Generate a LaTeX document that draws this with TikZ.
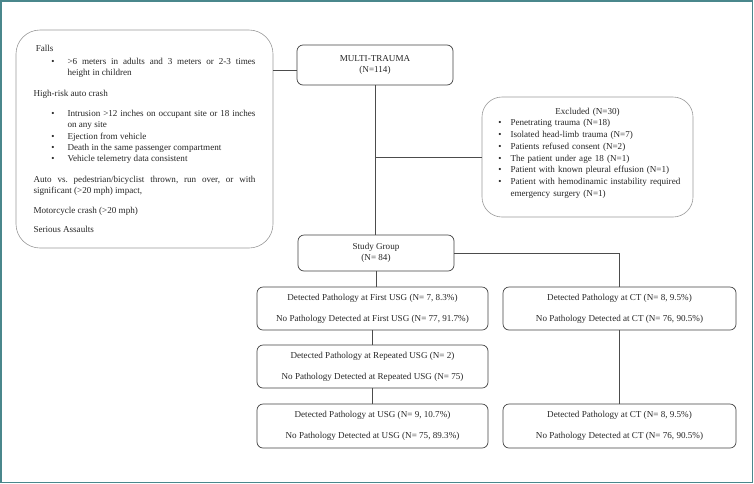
\documentclass[tikz,border=0pt]{standalone}
\usepackage{fontspec}
\setmainfont{Liberation Serif}
\usepackage{enumitem}
\usepackage{tikz}

\definecolor{framecol}{HTML}{4A878C}

\begin{document}
\begin{tikzpicture}[x=1pt,y=-1pt,
    every node/.style={font=\fontsize{9.1}{11.3}\selectfont,text=black!85,inner sep=0pt},
    box/.style={draw=black!75,line width=0.7pt,rounded corners=6pt,align=center},
    softbox/.style={draw=black!40,line width=0.6pt,rounded corners=24pt},
    link/.style={draw=black!70,line width=0.7pt}]

    % Frame of the figure
    \useasboundingbox (0,0) rectangle (754,483);
    \draw[framecol,line width=1.5pt] (0.75,0.75) rectangle (752.25,482.25);

    % Inclusion criteria
    \node[softbox,minimum width=257pt,minimum height=218pt,text width=222pt,align=justify] (crit) at (144.5,139) {%
      \hyphenpenalty=10000 \frenchspacing
      \vspace{1pt}
      Falls
      \begin{itemize}[leftmargin=34pt,labelsep=13pt,topsep=0pt,partopsep=0pt,itemsep=0pt,parsep=0pt]
        \item >6 meters in adults and 3 meters or 2-3 times\linebreak height in children
      \end{itemize}
      \vspace{9.5pt}
      High-risk auto crash\par
      \vspace{9pt}
      \begin{itemize}[leftmargin=34pt,labelsep=13pt,topsep=0pt,partopsep=0pt,itemsep=0pt,parsep=0pt]
        \item Intrusion >12 inches on occupant site or 18 inches\linebreak on any site
        \item Ejection from vehicle
        \item Death in the same passenger compartment
        \item Vehicle telemetry data consistent
      \end{itemize}
      \vspace{9.5pt}
      Auto vs. pedestrian/bicyclist thrown, run over, or with\linebreak significant (>20 mph) impact,\par
      \vspace{8pt}
      Motorcycle crash (>20 mph)\par
      \vspace{8pt}
      Serious Assaults};

    % Main flow
    \node[box,minimum width=156pt,minimum height=40pt] (multi) at (375,65) {MULTI-TRAUMA\\(N=114)};
    \node[box,minimum width=156pt,minimum height=36pt] (study) at (376,253) {Study Group\\(N= 84)};

    % Excluded patients
    \node[softbox,rounded corners=20pt,minimum width=211pt,minimum height=120pt,text width=198pt,align=left] (excl) at (587.5,157) {%
      \baselineskip=11.7pt
      \centering Excluded (N=30)\par
      \raggedright
      \begin{itemize}[leftmargin=22pt,labelsep=9pt,topsep=0pt,partopsep=0pt,itemsep=0pt,parsep=0pt]
        \item Penetrating trauma (N=18)
        \item Isolated head-limb trauma (N=7)
        \item Patients refused consent (N=2)
        \item The patient under age 18 (N=1)
        \item Patient with known pleural effusion (N=1)
        \item Patient with hemodinamic instability required\\emergency surgery (N=1)
      \end{itemize}
      \vspace{8pt}};

    % USG and CT results
    \node[box,minimum width=231pt,minimum height=43pt] (usg1) at (372.5,308.5)
      {Detected Pathology at First USG (N= 7, 8.3\%)\\[9.5pt]No Pathology Detected at First USG (N= 77, 91.7\%)};
    \node[box,minimum width=233pt,minimum height=43pt] (ct1) at (619.5,308.5)
      {Detected Pathology at CT (N= 8, 9.5\%)\\[9.5pt]No Pathology Detected at CT (N= 76, 90.5\%)};
    \node[box,minimum width=231pt,minimum height=43pt] (rep) at (372.5,366.5)
      {Detected Pathology at Repeated USG (N= 2)\\[9.5pt]No Pathology Detected at Repeated USG (N= 75)};
    \node[box,minimum width=231pt,minimum height=44pt] (usgall) at (372.5,426)
      {Detected Pathology at USG (N= 9, 10.7\%)\\[9.5pt]No Pathology Detected at USG (N= 75, 89.3\%)};
    \node[box,minimum width=233pt,minimum height=44pt] (ct2) at (619.5,426)
      {Detected Pathology at CT (N= 8, 9.5\%)\\[9.5pt]No Pathology Detected at CT (N= 76, 90.5\%)};

    % Connectors
    \coordinate (split) at (multi.south |- excl.west);
    \draw[link] ([yshift=-5pt]multi.west) -- ([yshift=-5pt]multi.west -| crit.east);
    \draw[link] (multi.south) -- (multi.south |- study.north);
    \draw[link] (split) -- (excl.west);
    \draw[link] (study.east) -| (ct1.north);
    \draw[link] (study.south) -- (study.south |- usg1.north);
    \foreach \u/\v in {usg1/rep,rep/usgall,ct1/ct2} {
      \draw[link] (\u.south) -- (\u.south |- \v.north);
    }

\end{tikzpicture}
\end{document}
